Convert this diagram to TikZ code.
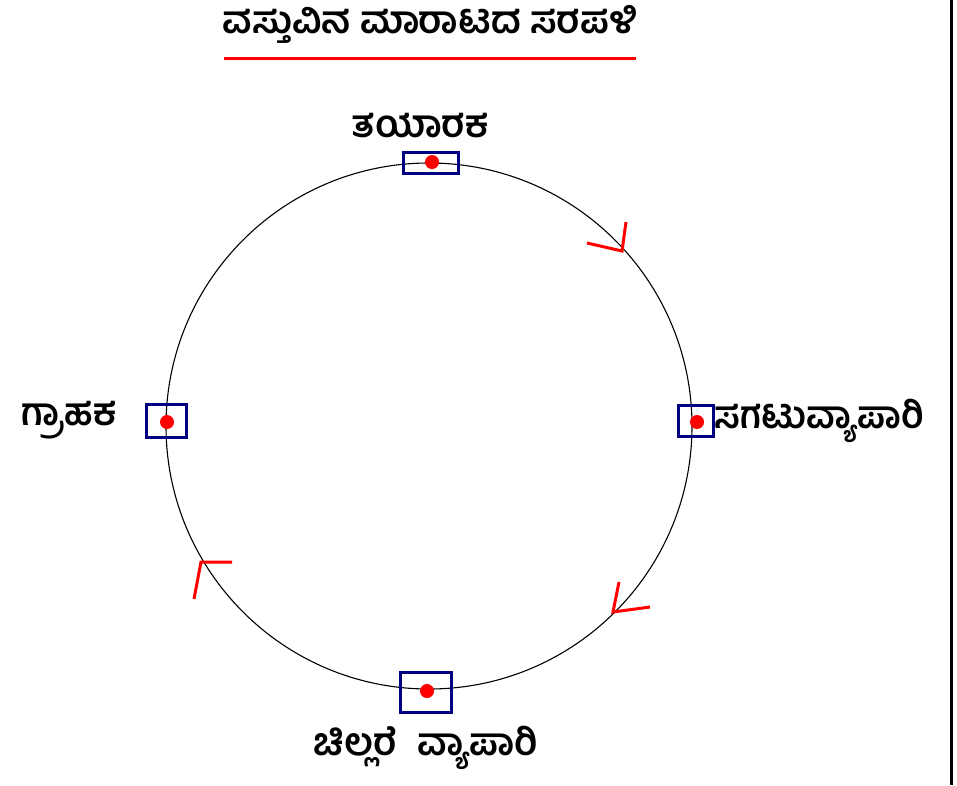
\documentclass[tikz,border=0pt]{standalone}
\usepackage{fontspec}
\newfontfamily\kannada[Script=Kannada]{Hind Mysuru}
\usetikzlibrary{positioning}
\definecolor{boxblue}{RGB}{0,0,128}
\tikzset{
  station/.style={draw=boxblue,line width=3pt,inner sep=0pt},
  label/.style={font=\kannada\bfseries\fontsize{38}{40}\selectfont,inner sep=0pt},
  flow/.style={red,line width=3pt,line join=miter}
}
\begin{document}
\begin{tikzpicture}[x=1pt,y=-1pt]
  \useasboundingbox(0,0)rectangle(957,785);
  \draw[line width=3pt](951.5,0)--(951.5,785);
  \node[label](title)at(430,24){ವಸ್ತುವಿನ ಮಾರಾಟದ ಸರಪಳಿ};
  \draw[red,line width=3pt](224,58.5)--(636,58.5);
  \draw[line width=1.1pt](429,426)circle(263);
  \node[station,minimum width=55pt,minimum height=21pt](maker)at(431,162.5){};
  \node[station,minimum width=40pt,minimum height=33pt](buyer)at(166,420.5){};
  \node[station,minimum width=35pt,minimum height=31pt](whole)at(695.5,420.5){};
  \node[station,minimum width=51pt,minimum height=40pt](retail)at(425.5,692){};
  \foreach \p in {(432,162),(167,422),(697,422),(427,691)}
    \fill[red]\p circle(7);
  \node[label,above=12pt of maker,xshift=-11pt]{ತಯಾರಕ};
  \node[label,left=28pt of buyer]{ಗ್ರಾಹಕ};
  \node[label,right=0pt of whole,xscale=0.97]{ಸಗಟುವ್ಯಾಪಾರಿ};
  \node[label,below=12pt of retail]{ಚಿಲ್ಲರೆ\hspace{20pt}ವ್ಯಾಪಾರಿ};
  \draw[flow](587,243)--(622,251)--(626,222);
  \draw[flow](619,582)--(613,612)--(650,607);
  \draw[flow](232,562)--(201,562)--(194,599);
\end{tikzpicture}
\end{document}
